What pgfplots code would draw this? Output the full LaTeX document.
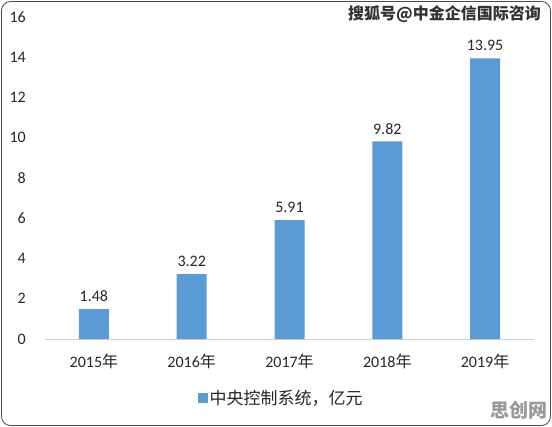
\documentclass[border=0pt]{standalone}
\usepackage{fontspec}
\setmainfont{Carlito}
\newfontfamily\cjk{Noto Sans CJK SC}
\usepackage{pgfplots}
\pgfplotsset{compat=1.18}
\definecolor{barblue}{HTML}{5B9BD5}
\definecolor{txt}{HTML}{262626}
\begin{document}
\begin{tikzpicture}
\useasboundingbox (0,0) rectangle (552bp,427bp);
\draw[rounded corners=9bp, black!70, line width=0.8pt] (1.5bp,1.5bp) rectangle (550.5bp,425.5bp);
\begin{axis}[
  at={(45bp,88bp)}, anchor=south west,
  scale only axis, width=489bp, height=322bp,
  xmin=-0.5, xmax=4.5, ymin=0, ymax=16,
  axis line style={draw=none},
  axis x line*=bottom,
  ytick={0,2,...,16},
  xtick=data,
  xticklabels={2015{\cjk 年},2016{\cjk 年},2017{\cjk 年},2018{\cjk 年},2019{\cjk 年}},
  major tick length=0pt,
  /pgf/number format/assume math mode=true,
  tick label style={font=\fontsize{16bp}{18bp}\selectfont, text=txt},
  yticklabel style={anchor=east, inner sep=0pt, xshift=-19bp},
  xticklabel style={anchor=north, inner sep=0pt, yshift=-15bp},
  ybar, bar width=30bp, bar shift=0pt,
  nodes near coords,
  every node near coord/.append style={font=\fontsize{16bp}{18bp}\selectfont, text=txt, anchor=south, inner sep=0pt, yshift=7bp, /pgf/number format/fixed, /pgf/number format/precision=2, /pgf/number format/fixed zerofill},
  legend style={at={(0.483,-0.183)}, anchor=center, draw=none, fill=none, font=\fontsize{17bp}{19bp}\selectfont\cjk, text=txt, legend cell align=left},
  legend image code/.code={\fill[barblue] (0bp,-5bp) rectangle (10bp,5bp);},
  clip=false,
]
\draw[color=black!18, line width=0.8pt] (axis cs:-0.5,0) -- (axis cs:4.5,0);
\addplot[fill=barblue, draw=none] coordinates {(0,1.48) (1,3.22) (2,5.91) (3,9.82) (4,13.95)};
\addlegendentry{中央控制系统，亿元}
\end{axis}
\node[anchor=east, inner sep=0pt, font=\fontsize{16bp}{18bp}\selectfont\cjk\bfseries, text=black!80] at (541bp,413bp) {搜狐号@中金企信国际咨询};
\node[anchor=east, inner sep=0pt, font=\fontsize{19bp}{21bp}\selectfont\cjk\bfseries, text=black!40] at (548bp,17bp) {思创网};
\end{tikzpicture}
\end{document}
